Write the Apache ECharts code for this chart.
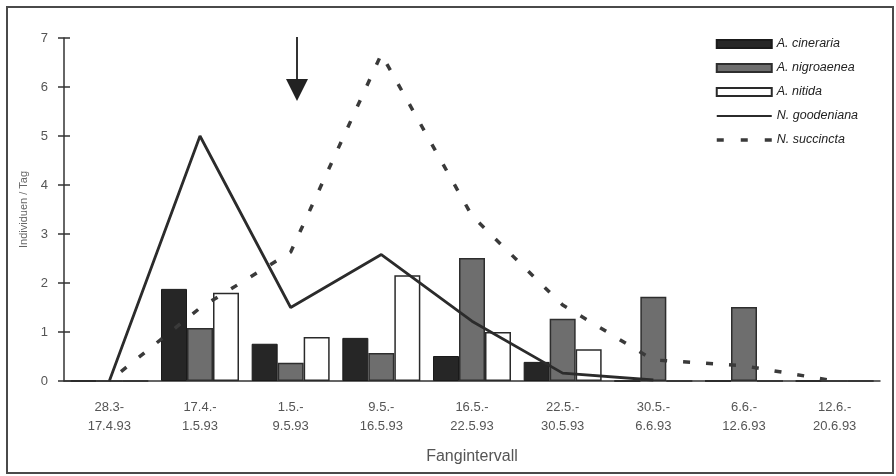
<!DOCTYPE html>
<html>
<head>
<meta charset="utf-8">
<title>Fangintervall</title>
<script src="https://cdn.jsdelivr.net/npm/echarts@6/dist/echarts.min.js"></script>
<style>
  body { margin: 0; background: #fff; }
  #main { width: 896px; height: 476px; }
</style>
</head>
<body>
<div id="main"></div>
<script>
  // Fangintervalle (x-Achse)
  var categories = ['28.3-\n17.4.93', '17.4.-\n1.5.93', '1.5.-\n9.5.93', '9.5.-\n16.5.93',
    '16.5.-\n22.5.93', '22.5.-\n30.5.93', '30.5.-\n6.6.93', '6.6.-\n12.6.93', '12.6.-\n20.6.93'];

  // Individuen / Tag
  var cineraria  = [0, 1.88, 0.76, 0.88, 0.51, 0.39, 0, 0, 0];
  var nigroaenea = [0, 1.08, 0.37, 0.57, 2.51, 1.27, 1.72, 1.51, 0];
  var nitida     = [0, 1.80, 0.90, 2.16, 1.00, 0.65, 0, 0, 0];
  var goodeniana = [0, 5.00, 1.50, 2.58, 1.22, 0.16, 0.02, null, null];
  var succincta  = [0, 1.49, 2.63, 6.67, 3.37, 1.55, 0.43, 0.31, 0];

  var font = 'Liberation Sans, Arial, sans-serif';
  var ink = '#333';
  var noDot = { color: 'rgba(0,0,0,0)', borderWidth: 0, opacity: 0 };

  var chart = echarts.init(document.getElementById('main'));
  var option = {
    animation: false,
    backgroundColor: '#fff',
    textStyle: { fontFamily: font },
    grid: { left: 64, right: 16, top: 38, bottom: 95 },
    legend: {
      orient: 'vertical',
      left: 710,
      top: 32,
      itemWidth: 55,
      itemHeight: 8,
      itemGap: 10,
      textStyle: { fontStyle: 'italic', fontSize: 12.5, color: '#222', lineHeight: 14 },
      data: [
        { name: 'A. cineraria', icon: 'rect' },
        { name: 'A. nigroaenea', icon: 'rect' },
        { name: 'A. nitida', icon: 'rect' },
        { name: 'N. goodeniana', itemStyle: noDot },
        { name: 'N. succincta', itemStyle: noDot,
          lineStyle: { type: [7, 17], dashOffset: 0, width: 3.5 } }
      ]
    },
    xAxis: [{
      type: 'category',
      data: categories,
      boundaryGap: true,
      name: 'Fangintervall',
      nameLocation: 'middle',
      nameGap: 68,
      nameTextStyle: { fontSize: 16, color: '#555' },
      axisLine: { lineStyle: { color: ink, width: 1.5 } },
      axisTick: { length: 5, lineStyle: { color: ink, width: 1.5 } },
      axisLabel: { fontSize: 13, color: '#555', lineHeight: 19, margin: 17 }
    }, {
      type: 'category',
      data: categories,
      position: 'bottom',
      axisLine: { show: false },
      axisTick: { inside: true, length: 2, lineStyle: { color: ink, width: 1.5 } },
      axisLabel: { show: false }
    }],
    yAxis: [{
      type: 'value',
      min: 0,
      max: 7,
      interval: 1,
      name: 'Individuen / Tag',
      nameLocation: 'middle',
      nameGap: 34,
      nameTextStyle: { fontSize: 11, color: '#666' },
      splitLine: { show: false },
      axisLine: { show: true, lineStyle: { color: ink, width: 1.5 } },
      axisTick: { show: true, length: 6, lineStyle: { color: ink, width: 1.5 } },
      axisLabel: { fontSize: 13, color: '#555', margin: 16 }
    }, {
      type: 'value',
      min: 0,
      max: 7,
      interval: 1,
      position: 'left',
      splitLine: { show: false },
      axisLine: { show: false },
      axisTick: { show: true, inside: true, length: 6, lineStyle: { color: ink, width: 1.5 } },
      axisLabel: { show: false }
    }],
    series: [
      {
        name: 'A. cineraria', type: 'bar', data: cineraria,
        barWidth: 26, barGap: '0%',
        itemStyle: { color: '#262626', borderColor: '#1a1a1a', borderWidth: 1 }
      },
      {
        name: 'A. nigroaenea', type: 'bar', data: nigroaenea,
        barWidth: 26, barGap: '0%',
        itemStyle: { color: '#6e6e6e', borderColor: '#2e2e2e', borderWidth: 1.5 }
      },
      {
        name: 'A. nitida', type: 'bar', data: nitida,
        barWidth: 26, barGap: '0%',
        itemStyle: { color: '#fff', borderColor: '#2a2a2a', borderWidth: 1.5 }
      },
      {
        name: 'N. goodeniana', type: 'line', data: goodeniana,
        symbol: 'none', connectNulls: false,
        lineStyle: { color: '#2b2b2b', width: 2.8 },
        itemStyle: { color: '#2b2b2b' },
        z: 5
      },
      {
        name: 'N. succincta', type: 'line', data: succincta,
        symbol: 'none',
        lineStyle: { color: '#3a3a3a', width: 3.5, type: [7, 16], dashOffset: 8 },
        itemStyle: { color: '#3a3a3a' },
        z: 5
      }
    ],
    graphic: [
      {
        type: 'rect',
        shape: { x: 7, y: 7, width: 886, height: 466 },
        style: { fill: 'none', stroke: '#4a4a4a', lineWidth: 2 },
        silent: true
      },
      {
        type: 'line',
        shape: { x1: 297, y1: 37, x2: 297, y2: 84 },
        style: { stroke: '#333', lineWidth: 2 }
      },
      {
        type: 'polygon',
        shape: { points: [[286, 79], [308, 79], [297, 101]] },
        style: { fill: '#222' }
      }
    ]
  };
  chart.setOption(option);
</script>
</body>
</html>
